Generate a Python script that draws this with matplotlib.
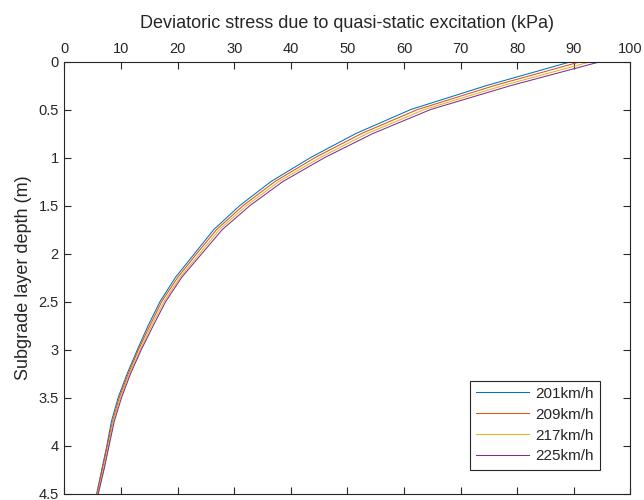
import numpy as np
import matplotlib
matplotlib.use("Agg")
import matplotlib.pyplot as plt

plt.rcParams["font.family"] = ["Liberation Sans", "DejaVu Sans"]

# Depth below subgrade surface (m)
depth = [0, 0.25, 0.5, 0.75, 1.0, 1.25, 1.5, 1.75, 2.0, 2.25,
         2.5, 2.75, 3.0, 3.25, 3.5, 3.75, 4.0, 4.25, 4.5]

# Deviatoric stress (kPa) for each train speed
s201 = [89.6, 74.6, 61.2, 51.5, 43.5, 36.5, 31.0, 26.4, 23.0, 19.6,
        16.9, 14.8, 12.9, 11.1, 9.5, 8.3, 7.5, 6.6, 5.7]
s209 = [91.3, 76.0, 62.4, 52.5, 44.3, 37.2, 31.6, 26.9, 23.4, 20.0,
        17.2, 15.1, 13.1, 11.3, 9.7, 8.5, 7.6, 6.7, 5.8]
s217 = [93.1, 77.5, 63.6, 53.5, 45.2, 37.9, 32.2, 27.4, 23.9, 20.4,
        17.6, 15.4, 13.4, 11.5, 9.9, 8.6, 7.8, 6.9, 5.9]
s225 = [94.8, 78.9, 64.7, 54.5, 46.0, 38.6, 32.8, 27.9, 24.3, 20.7,
        17.9, 15.7, 13.6, 11.7, 10.1, 8.8, 7.9, 7.0, 6.0]

labels = ["201km/h", "209km/h", "217km/h", "225km/h"]
colors = ["#0072BD", "#D95319", "#EDB120", "#7E2F8E"]

fig = plt.figure(figsize=(6.44, 5.0), dpi=100)
ax = fig.add_axes([0.100, 0.013, 0.879, 0.864])

for s, lab, c in zip([s201, s209, s217, s225], labels, colors):
    ax.plot(s, depth, color=c, lw=0.75, label=lab)

ax.set_xlim(0, 100)
ax.set_ylim(4.5, 0)
ax.set_xticks(np.arange(0, 101, 10))
ax.set_yticks(np.arange(0, 4.51, 0.5))
ax.set_yticklabels(["0", "0.5", "1", "1.5", "2", "2.5", "3", "3.5", "4", "4.5"])

ax.xaxis.set_label_position("top")
ax.tick_params(axis="both", which="both", direction="in", length=5, width=0.8,
               top=True, bottom=True, left=True, right=True,
               labeltop=True, labelbottom=False, labelsize=10.5,
               colors="#262626", pad=4)
for sp in ax.spines.values():
    sp.set_color("#262626")
    sp.set_linewidth(0.8)

ax.set_xlabel("Deviatoric stress due to quasi-static excitation (kPa)",
              fontsize=13, color="#262626", labelpad=10)
ax.set_ylabel("Subgrade layer depth (m)", fontsize=13, color="#262626", labelpad=5)

leg = ax.legend(loc="lower right", bbox_to_anchor=(600 / 644, 1 - 469.5 / 500),
                bbox_transform=fig.transFigure, fontsize=11, fancybox=False,
                framealpha=1, edgecolor="#262626", handlelength=3.5,
                borderpad=0.4, labelspacing=0.45, handletextpad=0.4,
                borderaxespad=0)
leg.get_frame().set_linewidth(0.8)
for t in leg.get_texts():
    t.set_color("#262626")

fig.savefig("out.png", dpi=100)
